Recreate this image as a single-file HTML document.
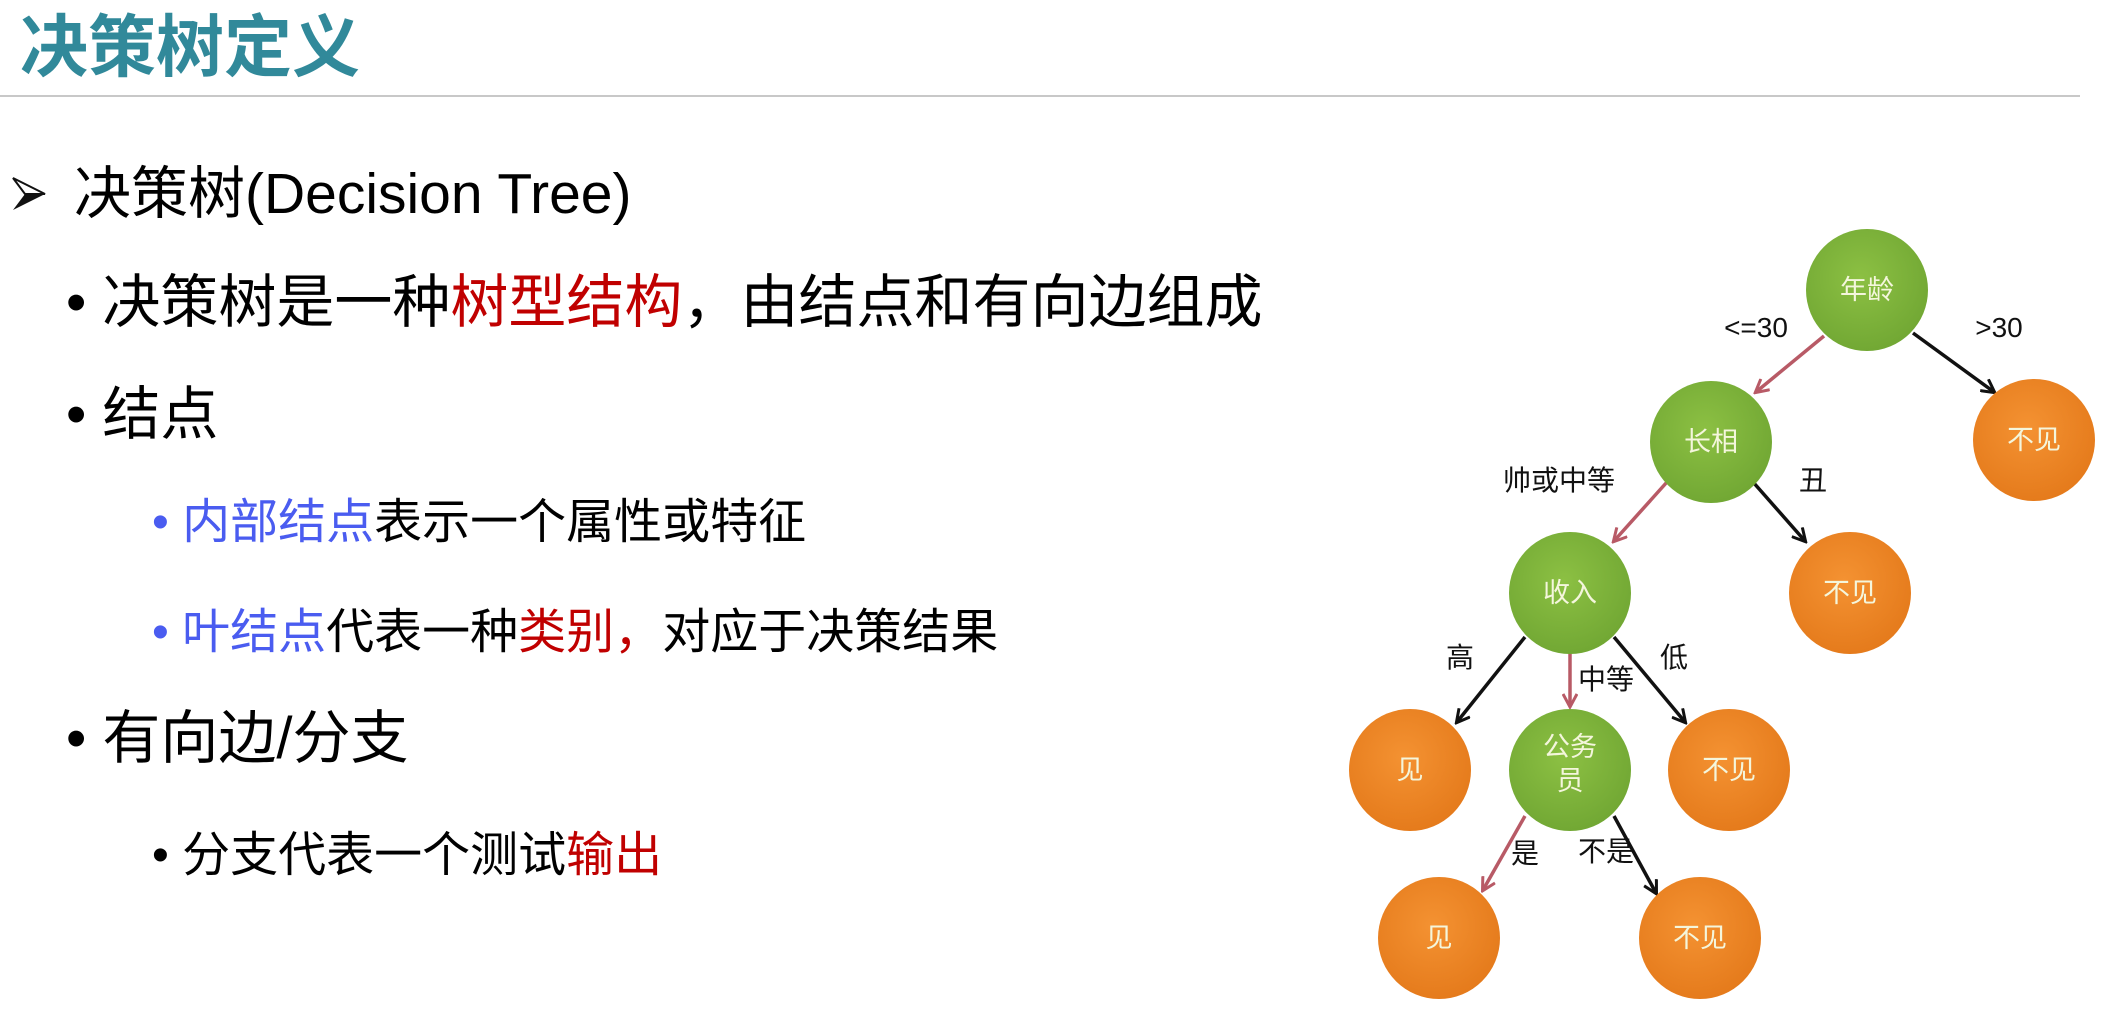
<!DOCTYPE html>
<html><head><meta charset="utf-8"><style>
body{margin:0;width:2117px;height:1034px;background:#fff;position:relative;overflow:hidden;font-family:"Liberation Sans","Noto Sans CJK SC",sans-serif}
.t{position:absolute;white-space:nowrap;line-height:1}
</style></head><body>
<div class="t" style="left:20px;top:14px;font-size:68px;font-weight:bold;color:#31899a">决策树定义</div>
<div style="position:absolute;left:0;top:95px;width:2080px;height:2px;background:#c8c8c8"></div>
<svg style="position:absolute;left:11px;top:176px" width="36" height="36"><polygon points="2,2 34,18 2,34 14,18" fill="#111"/><polygon points="2,2 34,18 14,18" fill="#fff" stroke="#111" stroke-width="2"/></svg>
<div class="t" style="left:74px;top:166px;font-size:57px;color:#000">决策树(Decision Tree)</div>
<div class="t" style="left:66px;top:274px;font-size:58px;color:#000">•&nbsp;决策树是一种<span style="color:#c00000">树型结构</span>，由结点和有向边组成</div>
<div class="t" style="left:66px;top:386px;font-size:58px;color:#000">•&nbsp;结点</div>
<div class="t" style="left:152px;top:499px;font-size:48px;color:#000"><span style="color:#4a5cf0">•&nbsp;内部结点</span>表示一个属性或特征</div>
<div class="t" style="left:152px;top:609px;font-size:48px;color:#000"><span style="color:#4a5cf0">•&nbsp;叶结点</span>代表一种<span style="color:#c00000">类别，</span>对应于决策结果</div>
<div class="t" style="left:66px;top:710px;font-size:58px;color:#000">•&nbsp;有向边/分支</div>
<div class="t" style="left:152px;top:832px;font-size:48px;color:#000">•&nbsp;分支代表一个测试<span style="color:#c00000">输出</span></div>
<svg style="position:absolute;left:0;top:0" width="2117" height="1034">
<defs>
<marker id="ab" markerWidth="16" markerHeight="16" refX="13" refY="8" orient="auto" markerUnits="userSpaceOnUse"><path d="M1,1 L14,8 L1,15" fill="none" stroke="#111" stroke-width="3"/></marker>
<marker id="ar" markerWidth="16" markerHeight="16" refX="13" refY="8" orient="auto" markerUnits="userSpaceOnUse"><path d="M1,1 L14,8 L1,15" fill="none" stroke="#b85a66" stroke-width="3"/></marker>
<radialGradient id="g" cx="45%" cy="40%" r="60%"><stop offset="0" stop-color="#8cc043"/><stop offset="1" stop-color="#72a834"/></radialGradient>
<radialGradient id="o" cx="45%" cy="40%" r="60%"><stop offset="0" stop-color="#f49232"/><stop offset="1" stop-color="#e57b1c"/></radialGradient>
</defs>
<g stroke-width="3.5" fill="none">
<line x1="1824" y1="336" x2="1756" y2="392" stroke="#b85a66" marker-end="url(#ar)"/>
<line x1="1913" y1="333" x2="1994" y2="392" stroke="#111" marker-end="url(#ab)"/>
<line x1="1667" y1="482" x2="1614" y2="541" stroke="#b85a66" marker-end="url(#ar)"/>
<line x1="1753" y1="482" x2="1805" y2="541" stroke="#111" marker-end="url(#ab)"/>
<line x1="1525" y1="637" x2="1457" y2="722" stroke="#111" marker-end="url(#ab)"/>
<line x1="1570" y1="653" x2="1570" y2="706" stroke="#b85a66" marker-end="url(#ar)"/>
<line x1="1614" y1="637" x2="1685" y2="722" stroke="#111" marker-end="url(#ab)"/>
<line x1="1525" y1="816" x2="1483" y2="890" stroke="#b85a66" marker-end="url(#ar)"/>
<line x1="1614" y1="816" x2="1656" y2="893" stroke="#111" marker-end="url(#ab)"/>
</g>
<g>
<circle cx="1867" cy="290" r="61" fill="url(#g)"/>
<circle cx="1711" cy="442" r="61" fill="url(#g)"/>
<circle cx="2034" cy="440" r="61" fill="url(#o)"/>
<circle cx="1570" cy="593" r="61" fill="url(#g)"/>
<circle cx="1850" cy="593" r="61" fill="url(#o)"/>
<circle cx="1410" cy="770" r="61" fill="url(#o)"/>
<circle cx="1570" cy="770" r="61" fill="url(#g)"/>
<circle cx="1729" cy="770" r="61" fill="url(#o)"/>
<circle cx="1439" cy="938" r="61" fill="url(#o)"/>
<circle cx="1700" cy="938" r="61" fill="url(#o)"/>
</g>
<g font-family="Liberation Sans,Noto Sans CJK SC,sans-serif" font-size="27" fill="#f4f6dc" text-anchor="middle">
<text x="1867" y="299">年龄</text>
<text x="1711" y="451">长相</text>
<text x="2034" y="449">不见</text>
<text x="1570" y="602">收入</text>
<text x="1850" y="602">不见</text>
<text x="1410" y="779">见</text>
<text x="1570" y="756">公务</text>
<text x="1570" y="790">员</text>
<text x="1729" y="779">不见</text>
<text x="1439" y="947">见</text>
<text x="1700" y="947">不见</text>
</g>
<g font-family="Liberation Sans,Noto Sans CJK SC,sans-serif" font-size="28" fill="#111" text-anchor="middle">
<text x="1756" y="337">&lt;=30</text>
<text x="1999" y="337">&gt;30</text>
<text x="1559" y="490">帅或中等</text>
<text x="1813" y="490">丑</text>
<text x="1460" y="667">高</text>
<text x="1606" y="689">中等</text>
<text x="1674" y="667">低</text>
<text x="1525" y="863">是</text>
<text x="1606" y="861">不是</text>
</g>
</svg>
</body></html>
